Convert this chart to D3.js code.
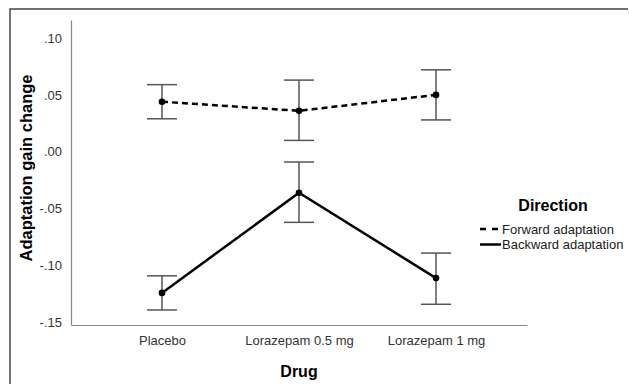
<!DOCTYPE html>
<html lang="en">
<head>
<meta charset="UTF-8">
<title>Adaptation gain change</title>
<style>
  body { margin: 0; background: #fff; }
  text { font-family: "Liberation Sans", Arial, sans-serif; }
</style>
</head>
<body>
<svg width="629" height="384"></svg>
<script src="https://cdn.jsdelivr.net/npm/d3@7"></script>
<script>

var drugs = ['Placebo', 'Lorazepam 0.5 mg', 'Lorazepam 1 mg'];
var yTicks = [0.10, 0.05, 0.00, -0.05, -0.10, -0.15];

var forwardMean = [0.044, 0.036, 0.050];
var forwardLow = [0.029, 0.010, 0.028];
var forwardHigh = [0.059, 0.063, 0.072];

var backwardMean = [-0.124, -0.036, -0.111];
var backwardLow = [-0.139, -0.062, -0.134];
var backwardHigh = [-0.109, -0.009, -0.089];

var series = [
  { name: 'Forward adaptation', mean: forwardMean, low: forwardLow, high: forwardHigh, dash: '6,4' },
  { name: 'Backward adaptation', mean: backwardMean, low: backwardLow, high: backwardHigh, dash: null }
];

var svg = d3.select('svg');

// outer frame
svg.append('path')
  .attr('d', 'M10,700 L10,9 L628,9')
  .attr('fill', 'none')
  .attr('stroke', '#444')
  .attr('stroke-width', 1.5);

var plotLeft = 71, plotRight = 527, plotTop = 20, plotBottom = 325;

var x = d3.scalePoint().domain(drugs).range([plotLeft, plotRight]).padding(0.664);
var y = d3.scaleLinear().domain([-0.1522, 0.1158]).range([plotBottom, plotTop]);

// SPSS style: ".05", "-.10" with a plain hyphen
var fmt = function(v) {
  var s = Math.abs(v).toFixed(2).replace(/^0/, '');
  return (v < 0 ? '-' : '') + s;
};

// y axis
var yAxis = svg.append('g')
  .attr('transform', 'translate(' + plotLeft + ',0)')
  .call(d3.axisLeft(y).tickValues(yTicks).tickSize(0).tickPadding(9).tickFormat(fmt));
yAxis.select('.domain').attr('stroke', '#888').attr('stroke-width', 1.2);
yAxis.selectAll('text').attr('font-size', 13).attr('fill', '#333')
  .style('font-family', '"Liberation Sans", Arial, sans-serif');

// x axis
var xAxis = svg.append('g')
  .attr('transform', 'translate(0,' + plotBottom + ')')
  .call(d3.axisBottom(x).tickSize(0).tickPadding(11));
xAxis.select('.domain').attr('stroke', '#888').attr('stroke-width', 1.2);
xAxis.selectAll('text').attr('font-size', 13).attr('fill', '#333')
  .style('font-family', '"Liberation Sans", Arial, sans-serif');

// axis titles
svg.append('text')
  .attr('transform', 'translate(32,168) rotate(-90)')
  .attr('text-anchor', 'middle')
  .attr('font-size', 16.5)
  .attr('font-weight', 'bold')
  .text('Adaptation gain change');

svg.append('text')
  .attr('x', x('Lorazepam 0.5 mg'))
  .attr('y', 377)
  .attr('text-anchor', 'middle')
  .attr('font-size', 16)
  .attr('font-weight', 'bold')
  .text('Drug');

// error bars
var capHalf = 15;
series.forEach(function(s) {
  var g = svg.append('g');
  drugs.forEach(function(d, i) {
    var cx = x(d);
    g.append('line')
      .attr('x1', cx).attr('x2', cx)
      .attr('y1', y(s.low[i])).attr('y2', y(s.high[i]))
      .attr('stroke', '#555').attr('stroke-width', 1.5);
    [s.low[i], s.high[i]].forEach(function(v) {
      g.append('line')
        .attr('x1', cx - capHalf).attr('x2', cx + capHalf)
        .attr('y1', y(v)).attr('y2', y(v))
        .attr('stroke', '#555').attr('stroke-width', 1.5);
    });
  });
});

// lines and points
var line = d3.line()
  .x(function(d, i) { return x(drugs[i]); })
  .y(function(d) { return y(d); });

series.forEach(function(s) {
  svg.append('path')
    .datum(s.mean)
    .attr('d', line)
    .attr('fill', 'none')
    .attr('stroke', '#000')
    .attr('stroke-width', 2.5)
    .attr('stroke-dasharray', s.dash);

  svg.selectAll(null)
    .data(s.mean)
    .enter()
    .append('circle')
    .attr('cx', function(d, i) { return x(drugs[i]); })
    .attr('cy', function(d) { return y(d); })
    .attr('r', 3.3)
    .attr('fill', '#000');
});

// legend
var legend = svg.append('g').attr('transform', 'translate(480,0)');
legend.append('text')
  .attr('x', 73)
  .attr('y', 211)
  .attr('text-anchor', 'middle')
  .attr('font-size', 16)
  .attr('font-weight', 'bold')
  .text('Direction');

series.forEach(function(s, i) {
  var ly = 229 + i * 15.5;
  legend.append('line')
    .attr('x1', 0).attr('x2', 21)
    .attr('y1', ly).attr('y2', ly)
    .attr('stroke', '#000')
    .attr('stroke-width', 2.5)
    .attr('stroke-dasharray', s.dash ? '6,6' : null);
  legend.append('text')
    .attr('x', 22)
    .attr('y', ly + 4.5)
    .attr('font-size', 13)
    .attr('fill', '#222')
    .text(s.name);
});

</script>
</body>
</html>
